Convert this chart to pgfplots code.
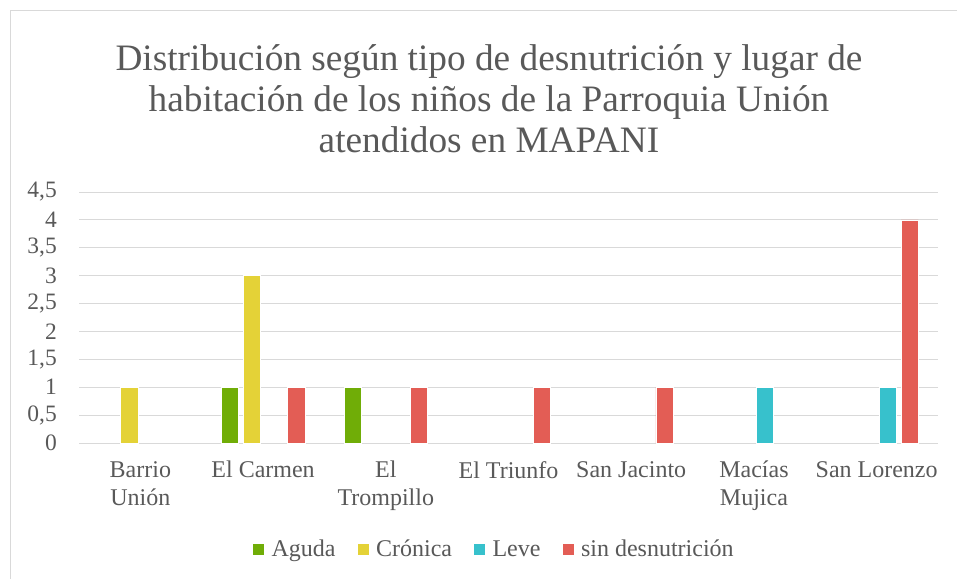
\documentclass[border=0pt]{standalone}
\usepackage{fontspec}
\setmainfont{Liberation Serif}
\usepackage{pgfplots}
\pgfplotsset{compat=1.18}
\definecolor{txt}{HTML}{595959}
\definecolor{gridc}{HTML}{D9D9D9}
\definecolor{cAguda}{HTML}{70AD07}
\definecolor{cCron}{HTML}{E4D237}
\definecolor{cLeve}{HTML}{37C1CC}
\definecolor{cSin}{HTML}{E35D55}
\begin{document}
\begin{tikzpicture}[x=1pt,y=1pt]
\useasboundingbox (0,0) rectangle (957,578);
\draw[gridc, line width=1pt] (10.5,567.5) rectangle (1100,-100);
\node[text=txt, align=center, inner sep=0pt, font=\fontsize{37.3}{41}\selectfont] at (489,479)
  {Distribución según tipo de desnutrición y lugar de\\habitación de los niños de la Parroquia Unión\\atendidos en MAPANI};
\begin{axis}[
  at={(79pt,135pt)}, anchor=south west,
  scale only axis, width=859pt, height=251pt,
  ymin=0, ymax=4.5, ytick distance=0.5,
  xmin=-0.5, xmax=6.5, xtick={0,...,6},
  xticklabels={{Barrio\\Unión},{El Carmen},{El\\Trompillo},{El Triunfo},{San Jacinto},{Macías\\Mujica},{San Lorenzo}},
  axis lines*=left,
  y axis line style={draw=none},
  x axis line style={draw=gridc, line width=1pt},
  major tick length=0pt,
  ymajorgrids, grid style={draw=gridc, line width=1pt},
  /pgf/number format/use comma,
  /pgf/number format/assume math mode=true,
  yticklabel style={font=\fontsize{23.5}{28}\selectfont, text=txt, inner sep=0pt, xshift=-22pt},
  xticklabel style={font=\fontsize{24}{28}\selectfont, text=txt, align=center, inner sep=0pt, yshift=-18pt},
  legend style={at={(0.483,-0.422)}, anchor=center, draw=none, legend columns=-1,
    font=\fontsize{24}{28}\selectfont, text=txt,
    /tikz/every odd column/.append style={column sep=5pt},
    /tikz/every even column/.append style={column sep=19pt}},
  legend image code/.code={\fill[#1] (0pt,-6pt) rectangle (12pt,6pt);},
]
\addplot[ybar, bar width=0.14, bar shift=-0.27, fill=cAguda, draw=white, line width=0.5pt] coordinates {(1,1) (2,1)};
\addplot[ybar, bar width=0.14, bar shift=-0.09, fill=cCron, draw=white, line width=0.5pt] coordinates {(0,1) (1,3)};
\addplot[ybar, bar width=0.14, bar shift=0.09, fill=cLeve, draw=white, line width=0.5pt] coordinates {(5,1) (6,1)};
\addplot[ybar, bar width=0.14, bar shift=0.27, fill=cSin, draw=white, line width=0.5pt] coordinates {(1,1) (2,1) (3,1) (4,1) (6,4)};
\legend{Aguda, Crónica, Leve, sin desnutrición}
\end{axis}
\end{tikzpicture}
\end{document}
